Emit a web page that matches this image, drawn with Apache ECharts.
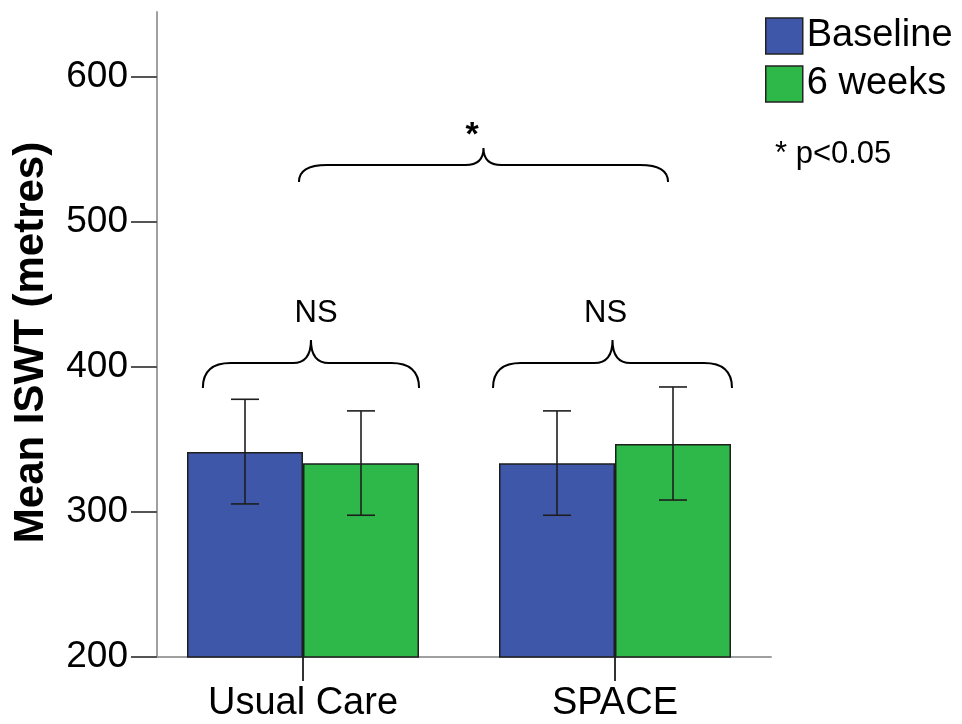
<!DOCTYPE html>
<html>
<head>
<meta charset="utf-8">
<script src="https://cdn.jsdelivr.net/npm/echarts@6/dist/echarts.min.js"></script>
<style>
  html, body { margin: 0; padding: 0; background: #fff; }
  #chart { width: 962px; height: 724px; }
</style>
</head>
<body>
<div id="chart"></div>
<script>
// chart values
const groups = ['Usual Care', 'SPACE'];
const seriesNames = ['Baseline', '6 weeks'];
const baselineMean = [341.5, 333.7];
const weeksMean = [333.7, 346.9];
const baselineLow = [305.6, 297.8];
const baselineHigh = [377.8, 369.8];
const weeksLow = [297.8, 308.3];
const weeksHigh = [369.8, 386.3];

// significance braces (x in category units, y in metres)
const braceStart = [-0.321, 0.609, -0.013];
const braceEnd = [0.372, 1.375, 1.170];
const braceEndY = [385.6, 385.6, 527.7];
const braceFlatY = [402.8, 402.8, 539.4];
const braceTipY = [418.7, 418.7, 551.2];
const braceLabelX = [0.042, 0.970, 0.542];
const braceLabelY = [437.3, 437.3, 560];
const braceLabels = ['NS', 'NS', '*'];

const FONT = '"Liberation Sans", Arial, sans-serif';
const BLUE = '#3e57a8';
const GREEN = '#2eb84a';
const BAR_W = 116;

const chart = echarts.init(document.getElementById('chart'));

// error bars, shifted half a bar left/right of the category centre
function errorBarItem(side) {
  return function (params, api) {
    const lo = api.coord([api.value(0), api.value(1)]);
    const hi = api.coord([api.value(0), api.value(2)]);
    const x = lo[0] + side * BAR_W / 2;
    const cap = 14;
    const style = { stroke: '#1e1e1e', lineWidth: 1.6 };
    return {
      type: 'group',
      children: [
        { type: 'line', shape: { x1: x, y1: lo[1], x2: x, y2: hi[1] }, style },
        { type: 'line', shape: { x1: x - cap, y1: lo[1], x2: x + cap, y2: lo[1] }, style },
        { type: 'line', shape: { x1: x - cap, y1: hi[1], x2: x + cap, y2: hi[1] }, style }
      ]
    };
  };
}

function braceItem(params, api) {
  const i = params.dataIndex;
  const a = api.coord([api.value(0), api.value(2)]);
  const b = api.coord([api.value(1), api.value(2)]);
  const yFlat = api.coord([0, api.value(3)])[1];
  const yTip = api.coord([0, api.value(4)])[1];
  const lab = api.coord([api.value(6), api.value(5)]);
  const xm = (a[0] + b[0]) / 2;
  const r1 = 28, r2 = 18;
  const d = 'M' + a[0] + ' ' + a[1] +
    ' Q' + a[0] + ' ' + yFlat + ' ' + (a[0] + r1) + ' ' + yFlat +
    ' L' + (xm - r2) + ' ' + yFlat +
    ' Q' + xm + ' ' + yFlat + ' ' + xm + ' ' + yTip +
    ' Q' + xm + ' ' + yFlat + ' ' + (xm + r2) + ' ' + yFlat +
    ' L' + (b[0] - r1) + ' ' + yFlat +
    ' Q' + b[0] + ' ' + yFlat + ' ' + b[0] + ' ' + b[1];
  const isStar = braceLabels[i] === '*';
  return {
    type: 'group',
    children: [
      { type: 'path', shape: { pathData: d }, style: { stroke: '#000', lineWidth: 2, fill: null } },
      {
        type: 'text',
        style: {
          x: lab[0], y: lab[1],
          text: braceLabels[i],
          font: (isStar ? 'bold 34px ' : '31px ') + FONT,
          fill: '#000', align: 'center', verticalAlign: 'middle'
        }
      }
    ]
  };
}

const option = {
  animation: false,
  backgroundColor: '#fff',
  textStyle: { fontFamily: FONT },
  title: {
    text: '* p<0.05',
    left: 775, top: 139, padding: 0,
    textStyle: { fontFamily: FONT, fontSize: 31, fontWeight: 'normal', color: '#000' }
  },
  legend: {
    data: seriesNames,
    orient: 'vertical',
    left: 765, top: 17,
    padding: 0,
    itemWidth: 37, itemHeight: 36, itemGap: 10,
    icon: 'rect',
    itemStyle: { borderColor: '#222', borderWidth: 1.5 },
    textStyle: { fontFamily: FONT, fontSize: 38, color: '#000', padding: [0, 0, 0, -1] }
  },
  grid: { left: 147, right: 191, top: 12, bottom: 67, containLabel: false },
  xAxis: [
    {
      type: 'category',
      data: groups,
      axisLine: { show: true, lineStyle: { color: '#a0a0a0', width: 2 } },
      axisTick: { show: true, alignWithLabel: true, length: 24, lineStyle: { color: '#333', width: 2 } },
      axisLabel: { color: '#000', fontSize: 38, fontFamily: FONT, margin: 28 },
      splitLine: { show: false }
    },
    { type: 'value', min: -0.5, max: 1.5, show: false }
  ],
  yAxis: {
    type: 'value',
    min: 200, max: 645, interval: 100,
    offset: -10,
    name: 'Mean ISWT (metres)',
    nameLocation: 'middle',
    nameGap: 105,
    nameTextStyle: { fontFamily: FONT, fontSize: 42, fontWeight: 'bold', color: '#000', padding: [0, 16, 0, 0] },
    axisLine: { show: true, onZero: false, lineStyle: { color: '#a0a0a0', width: 2 } },
    axisTick: { show: true, length: 26, lineStyle: { color: '#555', width: 2 } },
    axisLabel: { color: '#000', fontSize: 37, fontFamily: FONT, margin: 29, showMaxLabel: false },
    splitLine: { show: false }
  },
  series: [
    {
      name: seriesNames[0], type: 'bar', data: baselineMean,
      barWidth: BAR_W, barGap: '0%',
      itemStyle: { color: BLUE, borderColor: '#1e1e1e', borderWidth: 1.5 }
    },
    {
      name: seriesNames[1], type: 'bar', data: weeksMean,
      barWidth: BAR_W, barGap: '0%',
      itemStyle: { color: GREEN, borderColor: '#1e1e1e', borderWidth: 1.5 }
    },
    {
      type: 'custom', renderItem: errorBarItem(-1), z: 5,
      data: groups.map((g, i) => [i, baselineLow[i], baselineHigh[i]])
    },
    {
      type: 'custom', renderItem: errorBarItem(1), z: 5,
      data: groups.map((g, i) => [i, weeksLow[i], weeksHigh[i]])
    },
    {
      type: 'custom', renderItem: braceItem, xAxisIndex: 1, z: 5, clip: false,
      data: braceLabels.map((t, i) => [braceStart[i], braceEnd[i], braceEndY[i], braceFlatY[i], braceTipY[i], braceLabelY[i], braceLabelX[i]])
    }
  ]
};

chart.setOption(option);
</script>
</body>
</html>
